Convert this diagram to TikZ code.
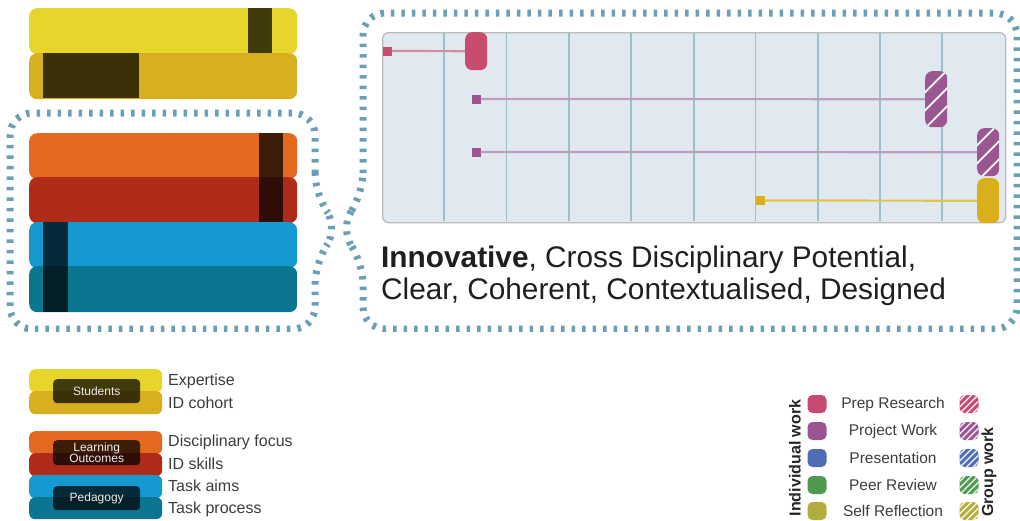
\documentclass[tikz,border=0pt]{standalone}
\usepackage{fontspec}
\setmainfont{Liberation Sans}
\usetikzlibrary{calc}
\definecolor{barY}{HTML}{E8D52B}
\definecolor{barG}{HTML}{D8AF1F}
\definecolor{barO}{HTML}{E2691F}
\definecolor{barR}{HTML}{AF2C19}
\definecolor{barB}{HTML}{149AD1}
\definecolor{barT}{HTML}{0B7690}
\definecolor{dashcol}{HTML}{6A9FB5}
\definecolor{panelfill}{HTML}{E1E9F0}
\definecolor{panelborder}{HTML}{BBBBBB}
\definecolor{gridcol}{HTML}{9BBFCD}
\definecolor{prep}{HTML}{C84C6E}
\definecolor{prepline}{HTML}{D88AA0}
\definecolor{proj}{HTML}{9B5590}
\definecolor{projline}{HTML}{C49BC0}
\definecolor{selfbar}{HTML}{D9B01B}
\definecolor{selfline}{HTML}{E3C44A}
\definecolor{legPrep}{HTML}{C94A70}
\definecolor{legProj}{HTML}{9A5493}
\definecolor{legPres}{HTML}{4E6DB4}
\definecolor{legPeer}{HTML}{4F9A50}
\definecolor{legSelf}{HTML}{B2AE3E}
\definecolor{textcol}{HTML}{3C3C3C}
\begin{document}
\begin{tikzpicture}[x=1pt,y=-1pt,
  bigbar/.style={rectangle, rounded corners=8pt, inner sep=0pt, anchor=north west,
    minimum width=268pt, minimum height=46pt, fill=#1},
  shade/.style={rectangle, inner sep=0pt, anchor=north west, fill=black, fill opacity=0.72},
  minibar/.style={rectangle, rounded corners=6pt, inner sep=0pt, anchor=north west,
    minimum width=133pt, minimum height=23pt, fill=#1},
  tag/.style={rectangle, rounded corners=4pt, inner sep=0pt, anchor=north west,
    minimum width=87pt, minimum height=24pt, fill=black, fill opacity=0.72,
    text opacity=1, text=white!92!black, font=\fontsize{12}{11.5}\selectfont, align=center},
  keytext/.style={anchor=west, inner sep=0pt, text=textcol, font=\fontsize{16}{18}\selectfont},
  dashborder/.style={draw=dashcol, line width=7pt, dash pattern=on 3.5pt off 7pt, rounded corners=22pt},
  chartbar/.style={rectangle, rounded corners=7pt, inner sep=0pt, anchor=north west,
    minimum width=22pt, fill=#1},
  marker/.style={rectangle, inner sep=0pt, minimum size=9pt, fill=#1},
  link/.style={draw=#1, line width=2.2pt},
  bighatch/.style={path picture={
    \foreach \k in {-4,...,4}{
      \draw[white, line width=1.8pt]
        ([xshift=-30pt, yshift={\k*18pt-30pt}]path picture bounding box.center) -- ++(60pt,60pt);}}},
  keysq/.style={rectangle, rounded corners=5pt, inner sep=0pt, minimum width=19pt, minimum height=18pt, fill=#1},
  keyhatch/.style={keysq=#1, path picture={
    \foreach \k in {-4,...,4}{
      \draw[white, line width=1.4pt, opacity=0.85]
        ([xshift=-14pt, yshift={\k*6.5pt-14pt}]path picture bounding box.center) -- ++(28pt,28pt);}}},
  keylabel/.style={anchor=center, inner sep=0pt, text=textcol, font=\fontsize{15.5}{17}\selectfont},
  sidelabel/.style={inner sep=0pt, rotate=90, text=black!85, font=\bfseries\fontsize{16}{18}\selectfont},
  criteria/.style={anchor=base west, inner sep=0pt, text=black!88, font=\fontsize{29.8}{32}\selectfont}
]
\useasboundingbox (0,0) rectangle (1020,520);

% ---- stacked bars, top left ----
\node[bigbar=barY] (yellow) at (29,8) {};
\node[bigbar=barG] (gold) at (29,53) {};
\node[shade, minimum width=24pt, minimum height=45pt] (yellowmark) at (248,8) {};
\node[shade, minimum width=96pt, minimum height=45pt] (goldmark) at (43,53) {};

\node[bigbar=barO] (orange) at (29,133) {};
\node[bigbar=barR] (red) at (29,177) {};
\node[bigbar=barB] (blue) at (29,222) {};
\node[bigbar=barT] (teal) at (29,266) {};
\node[shade, minimum width=24pt, minimum height=89pt] (outcomemark) at (259,133) {};
\node[shade, minimum width=25pt, minimum height=90pt] (pedagogymark) at (43,222) {};

% ---- dotted outlines joined at a common point ----
\begin{scope}
  \clip (0,0) rectangle (1020,331);
  \draw[dashborder] (315,195) -- (315,113) -- (10,113) -- (10,329) -- (315,329)
    -- (315,262) -- (339,228) -- cycle;
  \draw[dashborder] (363,195) -- (363,13) -- (1017,13) -- (1017,329) -- (363,329)
    -- (363,262) -- (339,228) -- cycle;
\end{scope}

% ---- timeline panel ----
\node[rectangle, rounded corners=6pt, inner sep=0pt, anchor=north west,
  minimum width=623pt, minimum height=190pt, fill=panelfill, draw=panelborder, line width=1.3pt]
  (panel) at (382,32) {};
\foreach \gx in {444,506.5,569,631,694,755.5,818,880,942}
  \draw[gridcol, line width=1.4pt] (\gx,33) -- (\gx,221);

\node[chartbar=prep, minimum height=38pt] (prepbar) at (465,32) {};
\node[chartbar=proj, minimum height=56pt, bighatch] (projbarA) at (925,71) {};
\node[chartbar=proj, minimum height=48pt, bighatch] (projbarB) at (977,128) {};
\node[chartbar=selfbar, minimum height=45pt] (selfbarA) at (977,178) {};

\node[marker=prep] (prepstart) at (387,51) {};
\node[marker=proj] (projstartA) at (476,99) {};
\node[marker=proj] (projstartB) at (476,152) {};
\node[marker=selfbar] (selfstart) at (760,200.5) {};

\draw[link=prepline] (prepstart) -- (prepbar);
\draw[link=projline] (projstartA) -- (projbarA);
\draw[link=projline] (projstartB) -- (projbarB);
\draw[link=selfline] (selfstart) -- (selfbarA);

% ---- quality criteria ----
\node[criteria] (criteriaA) at (381,267) {\textbf{Innovative}, Cross Disciplinary Potential,};
\node[criteria] (criteriaB) at (381,299) {Clear, Coherent, Contextualised, Designed};

% ---- key to the bars ----
\node[minibar=barY] (kyellow) at (29,369) {};
\node[minibar=barG] (kgold) at (29,391) {};
\node[tag] (students) at (53,379) {Students};

\node[minibar=barO] (korange) at (29,431) {};
\node[minibar=barR] (kred) at (29,453) {};
\node[minibar=barB] (kblue) at (29,475) {};
\node[minibar=barT, minimum height=22pt] (kteal) at (29,497) {};
\node[tag, minimum height=25pt] (outcomes) at (53,440) {Learning\\Outcomes};
\node[tag] (pedagogy) at (53,486) {Pedagogy};

\node[keytext] (expertise) at (168,381) {Expertise};
\node[keytext] (cohort) at (168,403) {ID cohort};
\node[keytext] (focus) at (168,442) {Disciplinary focus};
\node[keytext] (skills) at (168,464) {ID skills};
\node[keytext] (aims) at (168,486) {Task aims};
\node[keytext] (process) at (168,509) {Task process};

% ---- key to the activities ----
\node[sidelabel] (individual) at (795,458) {Individual work};
\node[sidelabel] (group) at (989,472) {Group work};

\foreach \nm/\txt/\col/\yy in {prep/Prep Research/legPrep/404, proj/Project Work/legProj/431,
    pres/Presentation/legPres/458, peer/Peer Review/legPeer/485, self/Self Reflection/legSelf/511}{
  \node[keysq=\col] (\nm solo) at (817,\yy) {};
  \node[keylabel] (\nm label) at (893,\yy) {\txt};
  \node[keyhatch=\col] (\nm team) at (969,\yy) {};
}
\end{tikzpicture}
\end{document}
